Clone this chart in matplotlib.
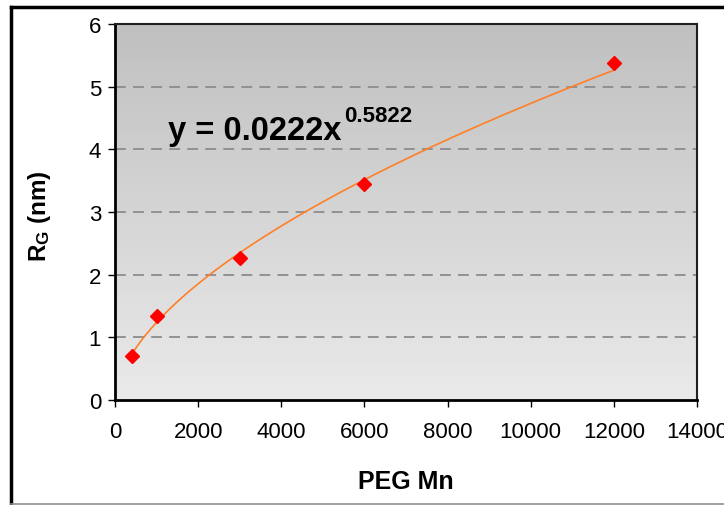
import numpy as np
import matplotlib
matplotlib.use('Agg')
import matplotlib.pyplot as plt
from matplotlib.colors import LinearSegmentedColormap
from matplotlib.lines import Line2D

plt.rcParams['font.family'] = ['Liberation Sans', 'DejaVu Sans']
plt.rcParams['mathtext.fontset'] = 'custom'
plt.rcParams['mathtext.bf'] = 'Liberation Sans:bold'
plt.rcParams['mathtext.rm'] = 'Liberation Sans'
plt.rcParams['mathtext.default'] = 'bf'

# measured points
peg_mn = [400, 1000, 3000, 6000, 12000]
rg_nm = [0.70, 1.34, 2.26, 3.44, 5.37]

# power trendline as printed on the chart
COEF = 0.0222
EXPONENT = 0.5822

x_ticks = [0, 2000, 4000, 6000, 8000, 10000, 12000, 14000]
y_ticks = [0, 1, 2, 3, 4, 5, 6]

fig = plt.figure(figsize=(7.24, 5.06), dpi=100)
fig.patch.set_facecolor('white')
ax = fig.add_axes([115 / 724, 105 / 506, 582 / 724, 376 / 506])

# grey gradient plot area, darker at the top
grad = np.linspace(0, 1, 256).reshape(-1, 1)
cmap = LinearSegmentedColormap.from_list('bg', ['#EAEAEA', '#C0C0C0'])
ax.imshow(grad, extent=[0, 14000, 0, 6], origin='lower', aspect='auto',
          cmap=cmap, zorder=0, interpolation='bicubic')

for yv in y_ticks[1:-1]:
    ax.axhline(yv, color='#8C8C8C', linewidth=1.3, dashes=(6, 4), zorder=1)

xfit = np.linspace(min(peg_mn), max(peg_mn), 200)
ax.plot(xfit, COEF * xfit ** EXPONENT, color='#FF7F27', linewidth=1.2, zorder=2)
ax.plot(peg_mn, rg_nm, linestyle='none', marker='D', markersize=7,
        color='#FF0000', markeredgecolor='#FF0000', zorder=3)

ax.set_xlim(0, 14000)
ax.set_ylim(0, 6)
ax.set_xticks(x_ticks)
ax.set_yticks(y_ticks)
ax.tick_params(axis='x', direction='out', length=5, width=1, pad=10, labelsize=16)
ax.tick_params(axis='y', direction='out', length=5, width=1, pad=5, labelsize=16)

for side in ['top', 'right']:
    ax.spines[side].set_color('#202020')
    ax.spines[side].set_linewidth(1.5)
for side in ['left', 'bottom']:
    ax.spines[side].set_color('black')
    ax.spines[side].set_linewidth(2)

ax.set_xlabel('PEG Mn', fontsize=18, fontweight='bold')
ax.xaxis.set_label_coords(0.499, -0.183)
ax.set_ylabel('R$_{G}$ (nm)', fontsize=17.5, fontweight='bold')
ax.yaxis.set_label_coords(-0.107, 0.492)

eq = ax.text(1277, 4.165, 'y = 0.0222x', fontsize=23.5, fontweight='bold',
             va='baseline', ha='left', zorder=4)
ax.annotate('0.5822', xy=(1, 1), xycoords=eq, xytext=(2, 7),
            textcoords='offset points', fontsize=16, fontweight='bold',
            va='top', ha='left', zorder=4)

# outer chart frame
fig.add_artist(Line2D([11 / 724, 11 / 724], [1 / 506, 498 / 506],
                      transform=fig.transFigure, color='black', linewidth=2.5))
fig.add_artist(Line2D([11 / 724, 1.0], [498 / 506, 498 / 506],
                      transform=fig.transFigure, color='black', linewidth=2.5))
fig.add_artist(Line2D([11 / 724, 1.0], [1.5 / 506, 1.5 / 506],
                      transform=fig.transFigure, color='#909090', linewidth=1.2))

fig.savefig('out.png', dpi=100, facecolor='white')
